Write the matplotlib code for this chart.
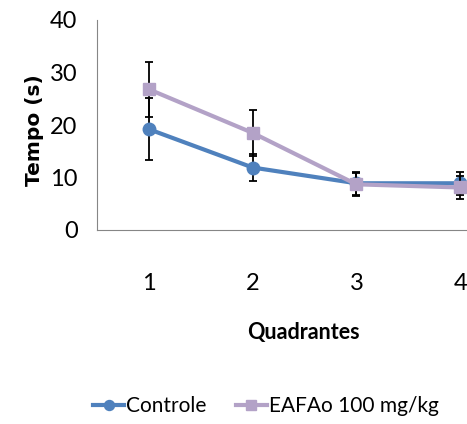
import matplotlib
matplotlib.use('Agg')
import matplotlib.pyplot as plt

# Data
quadrantes = [1, 2, 3, 4]
controle = [19.2, 11.9, 8.9, 8.9]
controle_err = [5.9, 2.6, 2.2, 2.2]
eafao = [26.8, 18.5, 8.7, 8.1]
eafao_err = [5.2, 4.4, 2.2, 2.1]

plt.rcParams['font.family'] = ['Lato', 'DejaVu Sans']

fig = plt.figure(figsize=(4.67, 4.24), dpi=100)
ax = fig.add_axes([97/467, 194/424, 415/467, 210/424])

blue = '#4F81BD'
purple = '#B3A2C7'

ax.errorbar(quadrantes, controle, yerr=controle_err, color=blue, lw=3,
            marker='o', ms=9, ecolor='black', elinewidth=1.3, capsize=3,
            capthick=1.3, label='Controle', zorder=3)
ax.errorbar(quadrantes, eafao, yerr=eafao_err, color=purple, lw=3,
            marker='s', ms=9, ecolor='black', elinewidth=1.3, capsize=3,
            capthick=1.3, label='EAFAo 100 mg/kg', zorder=4)

ax.set_xlim(0.5, 4.5)
ax.set_ylim(0, 40)
ax.set_yticks([0, 10, 20, 30, 40])
ax.set_xticks(quadrantes)
ax.tick_params(length=0, labelsize=17)
ax.tick_params(axis='y', pad=14)
ax.tick_params(axis='x', pad=31)
for s in ['top', 'right']:
    ax.spines[s].set_visible(False)
for s in ['left', 'bottom']:
    ax.spines[s].set_color('#868686')

fig.text(35/467, 1 - 130/424, 'Tempo (s)', fontsize=14.5, fontweight='bold',
         family='DejaVu Sans', rotation=90, ha='center', va='center')
fig.text(303/467, 1 - 333/424, 'Quadrantes', fontsize=15.5, fontweight='bold',
         ha='center', va='center')

handles, labels = ax.get_legend_handles_labels()
handles = [h[0] for h in handles]
fig.legend(handles, labels, loc='center', bbox_to_anchor=(266/467, 1 - 406/424),
           ncol=2, frameon=False, fontsize=15, handlelength=1.5,
           handletextpad=0.1, columnspacing=1.4, markerscale=0.8)

fig.savefig('out.png', dpi=100)
